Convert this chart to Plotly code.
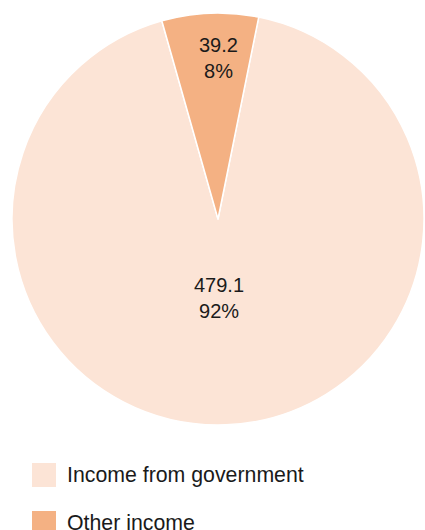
import plotly.graph_objects as go

labels = ["Income from government", "Other income"]
values = [479.1, 39.2]
colors = ["#FCE4D6", "#F4B183"]

W, H = 425, 530
FONT = "Liberation Sans, Arial, sans-serif"
TXT = "#1a1a1a"

total = sum(values)
pct = [round(v / total * 100) for v in values]

fig = go.Figure(go.Pie(
    labels=labels,
    values=values,
    sort=False,
    direction="clockwise",
    rotation=11.4,
    marker=dict(colors=colors, line=dict(color="white", width=1.5)),
    textinfo="none",
    hoverinfo="label+value+percent",
    showlegend=False,
    domain=dict(x=[12/W, 424/W], y=[1-425/H, 1-13/H]),
))

# slice labels (value + percent), positioned as in the reference
label_pos = [(219, 298), (218, 58)]
annots = []
for v, p, (px, py) in zip(values, pct, label_pos):
    annots.append(dict(xref="paper", yref="paper", x=px/W, y=1-py/H,
                       xanchor="center", yanchor="middle", showarrow=False,
                       text=f"{v}<br>{p}%",
                       font=dict(family=FONT, size=20, color=TXT)))

# custom legend (large square swatches, wide spacing)
shapes = []
for i, (lab, col) in enumerate(zip(labels, colors)):
    top = 463 + i * 48
    shapes.append(dict(type="rect", xref="paper", yref="paper",
                       x0=32/W, x1=56/W, y0=1-(top+24)/H, y1=1-top/H,
                       fillcolor=col, line=dict(width=0)))
    annots.append(dict(xref="paper", yref="paper", x=65/W, y=1-(top+12)/H,
                       xanchor="left", yanchor="middle", showarrow=False,
                       text=lab, font=dict(family=FONT, size=21.3, color=TXT)))

fig.update_layout(
    width=W, height=H,
    margin=dict(l=0, r=0, t=0, b=0),
    paper_bgcolor="white",
    font=dict(family=FONT, size=16, color=TXT),
    shapes=shapes,
    annotations=annots,
)

fig.write_html(
    "out.html",
    config={"displayModeBar": False},
    post_script="document.body.style.margin='0';document.body.style.overflow='hidden';",
)
